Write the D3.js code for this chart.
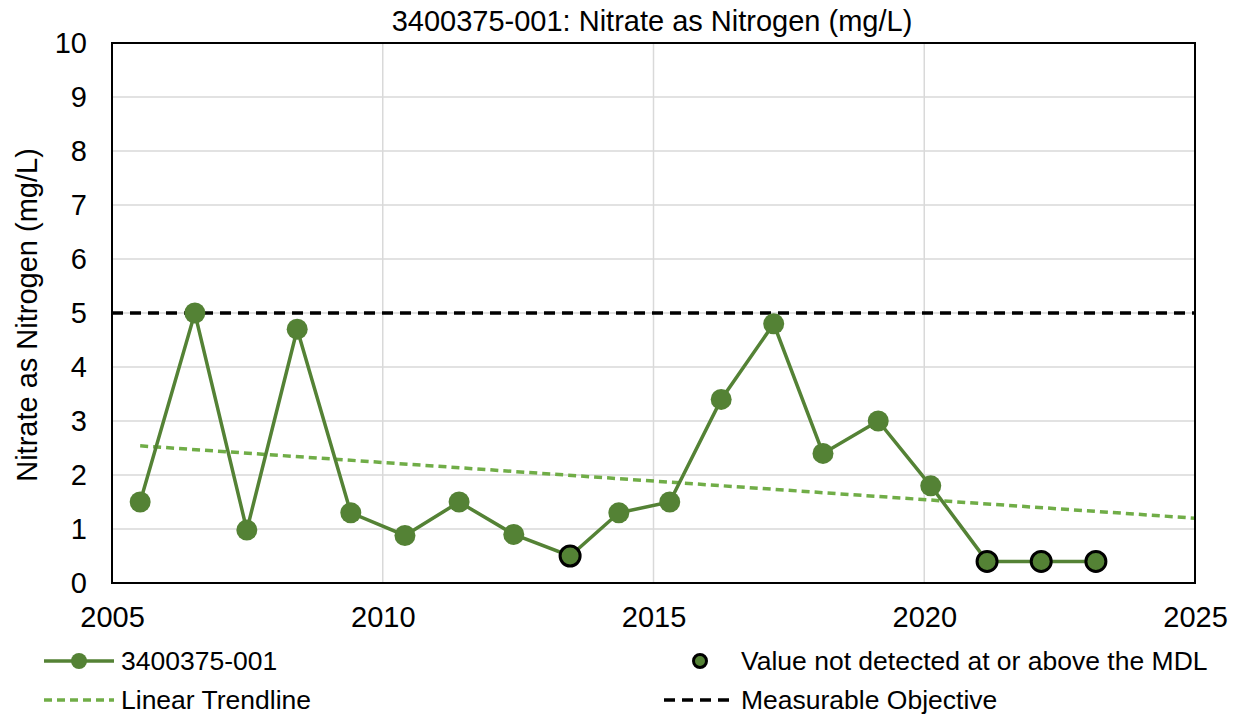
<!DOCTYPE html>
<html>
<head>
<meta charset="utf-8">
<script src="https://cdn.jsdelivr.net/npm/d3@7"></script>
<style>
  body { margin: 0; background: #fff; }
  text { font-family: "Liberation Sans", Arial, sans-serif; fill: #000; }
</style>
</head>
<body>
<div id="chart"></div>
<script>
// sample dates (decimal years) and nitrate values
const years = [2005.52, 2006.53, 2007.49, 2008.42, 2009.41, 2010.41, 2011.41, 2012.42, 2013.46,
  2014.36, 2015.3, 2016.25, 2017.22, 2018.13, 2019.15, 2020.12, 2021.16, 2022.16, 2023.17];
const values = [1.5, 5.0, 0.98, 4.7, 1.3, 0.88, 1.5, 0.9, 0.5, 1.3, 1.5, 3.4, 4.8, 2.4, 3.0, 1.8, 0.4, 0.4, 0.4];
const nonDetect = [false, false, false, false, false, false, false, false, true,
  false, false, false, false, false, false, false, true, true, true];
const trendYears = [2005.52, 2025];
const trendValues = [2.54, 1.2];
const objective = 5;
const xTicks = [2005, 2010, 2015, 2020, 2025];
const yTicks = [0, 1, 2, 3, 4, 5, 6, 7, 8, 9, 10];

const width = 1238, height = 719;
const margin = { top: 43, right: 43, bottom: 136, left: 112 };
const w = width - margin.left - margin.right;
const h = height - margin.top - margin.bottom;
const fontAxis = "29px";
const fontLegend = "26.5px";

const svg = d3.select("#chart").append("svg").attr("width", width).attr("height", height);

svg.append("text").attr("x", 652).attr("y", 31).attr("text-anchor", "middle")
  .style("font-size", fontAxis).text("3400375-001: Nitrate as Nitrogen (mg/L)");

const g = svg.append("g").attr("transform", `translate(${margin.left},${margin.top})`);

const x = d3.scaleLinear().domain([2005, 2025]).range([0, w]);
const y = d3.scaleLinear().domain([0, 10]).range([h, 0]);

// gridlines
g.append("g").selectAll("line").data(yTicks.slice(1, -1)).join("line")
  .attr("x1", 0).attr("x2", w).attr("y1", d => y(d)).attr("y2", d => y(d))
  .attr("stroke", "#d9d9d9").attr("stroke-width", 1.5);
g.append("g").selectAll("line").data(xTicks.slice(1, -1)).join("line")
  .attr("y1", 0).attr("y2", h).attr("x1", d => x(d)).attr("x2", d => x(d))
  .attr("stroke", "#d9d9d9").attr("stroke-width", 1.5);

// axes labels
const yAxis = g.append("g").call(d3.axisLeft(y).tickValues(yTicks).tickSize(0).tickPadding(25));
yAxis.select(".domain").remove();
yAxis.selectAll("text").style("font-size", fontAxis).style("font-family", "Liberation Sans, Arial, sans-serif");
const xAxis = g.append("g").attr("transform", `translate(0,${h})`)
  .call(d3.axisBottom(x).tickValues(xTicks).tickFormat(d3.format("d")).tickSize(0).tickPadding(23));
xAxis.select(".domain").remove();
xAxis.selectAll("text").style("font-size", fontAxis).style("font-family", "Liberation Sans, Arial, sans-serif");

svg.append("text").attr("transform", `translate(37,${margin.top + h / 2 + 2}) rotate(-90)`)
  .attr("text-anchor", "middle").style("font-size", fontAxis).text("Nitrate as Nitrogen (mg/L)");

// measurable objective
g.append("line").attr("x1", 0).attr("x2", w).attr("y1", y(objective)).attr("y2", y(objective))
  .attr("stroke", "#000").attr("stroke-width", 3.5).attr("stroke-dasharray", "11,7");

// trendline
g.append("path").datum(trendYears.map((d, i) => [d, trendValues[i]]))
  .attr("d", d3.line().x(d => x(d[0])).y(d => y(d[1])))
  .attr("fill", "none").attr("stroke", "#70ad47").attr("stroke-width", 3.5).attr("stroke-dasharray", "8,5");

// series
const pts = years.map((d, i) => ({ x: d, y: values[i], nd: nonDetect[i] }));
g.append("path").datum(pts)
  .attr("d", d3.line().x(d => x(d.x)).y(d => y(d.y)))
  .attr("fill", "none").attr("stroke", "#548235").attr("stroke-width", 3.5);
g.selectAll("circle.pt").data(pts).join("circle").attr("class", "pt")
  .attr("cx", d => x(d.x)).attr("cy", d => y(d.y))
  .attr("r", d => d.nd ? 10 : 10.5)
  .attr("fill", "#548235")
  .attr("stroke", d => d.nd ? "#000" : "none").attr("stroke-width", 3);

// frame
g.append("rect").attr("width", w).attr("height", h).attr("fill", "none")
  .attr("stroke", "#000").attr("stroke-width", 2);

// legend
const lg = svg.append("g");
lg.append("line").attr("x1", 44).attr("x2", 114).attr("y1", 661).attr("y2", 661)
  .attr("stroke", "#548235").attr("stroke-width", 3.5);
lg.append("circle").attr("cx", 79).attr("cy", 661).attr("r", 8).attr("fill", "#548235");
lg.append("text").attr("x", 121).attr("y", 670).style("font-size", fontLegend).text("3400375-001");

lg.append("line").attr("x1", 44).attr("x2", 114).attr("y1", 700).attr("y2", 700)
  .attr("stroke", "#70ad47").attr("stroke-width", 3.5).attr("stroke-dasharray", "8,5");
lg.append("text").attr("x", 121).attr("y", 709).style("font-size", fontLegend).text("Linear Trendline");

lg.append("circle").attr("cx", 700).attr("cy", 661).attr("r", 6.5).attr("fill", "#548235")
  .attr("stroke", "#000").attr("stroke-width", 3);
lg.append("text").attr("x", 741).attr("y", 670).style("font-size", fontLegend).text("Value not detected at or above the MDL");

lg.append("line").attr("x1", 664).attr("x2", 735).attr("y1", 700).attr("y2", 700)
  .attr("stroke", "#000").attr("stroke-width", 3.5).attr("stroke-dasharray", "11,7");
lg.append("text").attr("x", 741).attr("y", 709).style("font-size", fontLegend).text("Measurable Objective");
</script>
</body>
</html>
